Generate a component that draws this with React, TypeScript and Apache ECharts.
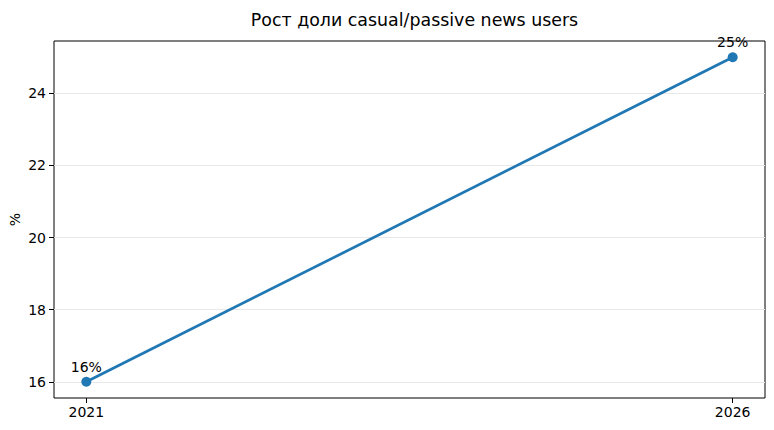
import React, { useEffect, useRef } from 'react';
import * as echarts from 'echarts';

const years = [2021, 2026];
const shares = [16, 25];
const yTicks = [16, 18, 20, 22, 24];
const xTicks = [2021, 2026];

const FONT = 'DejaVu Sans';

const App: React.FC = () => {
  const chartRef = useRef<HTMLDivElement | null>(null);

  useEffect(() => {
    if (!chartRef.current) return;
    const chart = echarts.init(chartRef.current, undefined, { renderer: 'svg' });

    // matplotlib-like 5% margins around the data
    const xPad = (years[1] - years[0]) * 0.05;
    const yPad = (shares[1] - shares[0]) * 0.05;

    chart.setOption({
      animation: false,
      backgroundColor: '#ffffff',
      title: {
        text: 'Рост доли casual/passive news users',
        left: 409.5,
        top: 6,
        textAlign: 'center',
        textStyle: { fontFamily: FONT, fontSize: 17.4, fontWeight: 'normal', color: '#000' },
      },
      grid: {
        left: 54,
        right: 9,
        top: 41,
        bottom: 32,
        containLabel: false,
        outerBoundsMode: 'none',
        show: true,
        borderColor: '#000',
        borderWidth: 1,
        backgroundColor: 'transparent',
      },
      xAxis: {
        type: 'value',
        min: years[0] - xPad,
        max: years[1] + xPad,
        axisLine: { show: false },
        axisTick: { show: true, length: 5, lineStyle: { color: '#000' }, customValues: xTicks },
        axisLabel: {
          customValues: xTicks,
          formatter: (v: number) => String(v),
          fontFamily: FONT,
          fontSize: 14,
          color: '#000',
          margin: 7,
        },
        splitLine: { show: false },
      },
      yAxis: {
        type: 'value',
        name: '%',
        nameLocation: 'middle',
        nameGap: 32,
        nameMoveOverlap: false,
        nameTextStyle: { fontFamily: FONT, fontSize: 14, color: '#000' },
        min: shares[0] - yPad,
        max: shares[1] + yPad,
        axisLine: { show: false },
        axisTick: { show: true, length: 5, lineStyle: { color: '#000' }, customValues: yTicks },
        axisLabel: {
          customValues: yTicks,
          formatter: (v: number) => String(v),
          fontFamily: FONT,
          fontSize: 14,
          color: '#000',
          margin: 8,
        },
        splitLine: { show: true, lineStyle: { color: '#e8e8e8', width: 1 } },
      },
      series: [
        {
          type: 'line',
          data: years.map((y, i) => [y, shares[i]]),
          symbol: 'circle',
          symbolSize: 10,
          lineStyle: { color: '#1f77b4', width: 2.7 },
          itemStyle: { color: '#1f77b4' },
          label: {
            show: true,
            position: 'top',
            distance: 3,
            formatter: (p: any) => `${p.value[1]}%`,
            fontFamily: FONT,
            fontSize: 14,
            color: '#000',
          },
        },
      ],
    });

    return () => {
      chart.dispose();
    };
  }, []);

  return <div ref={chartRef} style={{ width: 774, height: 430, margin: -8 }} />;
};

export default App;
